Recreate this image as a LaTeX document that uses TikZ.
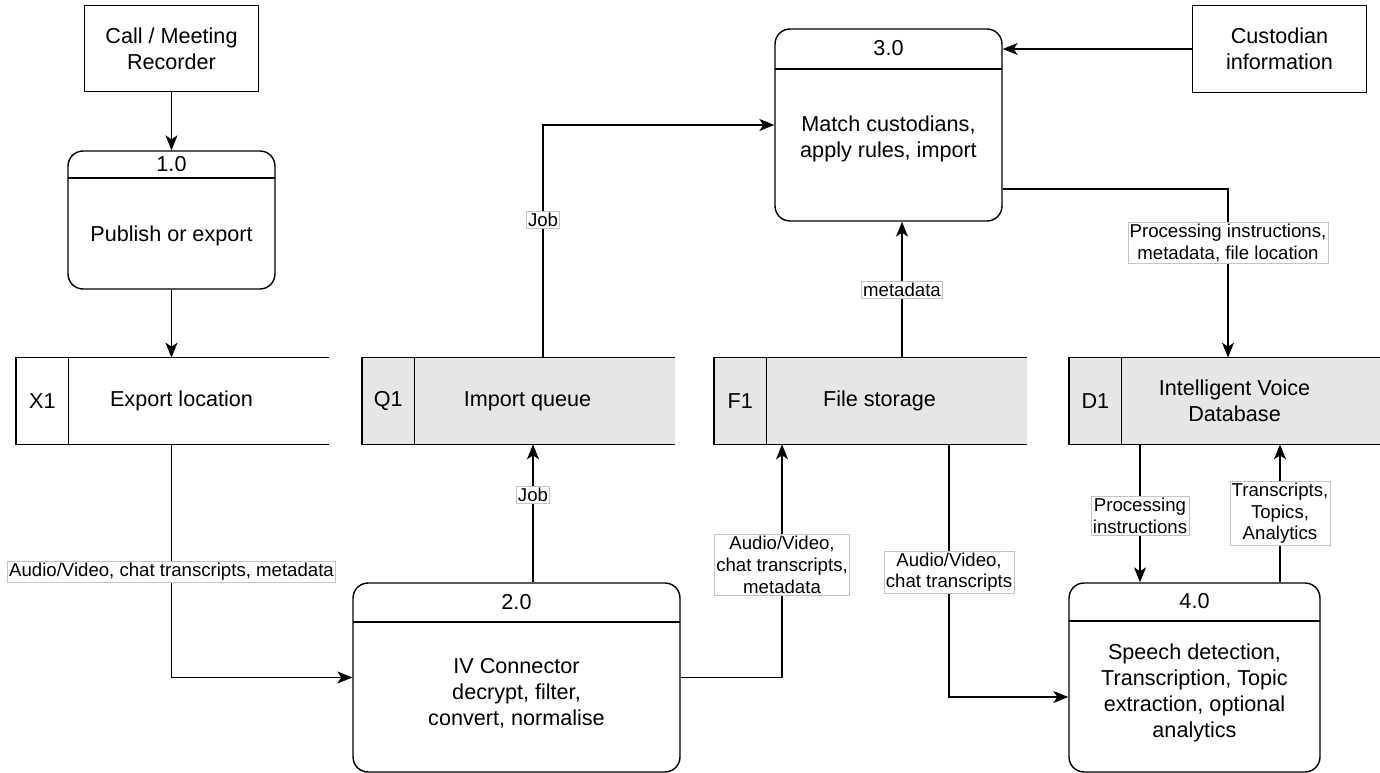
\documentclass[tikz,border=0pt]{standalone}
\usepackage{fontspec}
\setmainfont{Liberation Sans}
\usetikzlibrary{arrows.meta,positioning,backgrounds}
\definecolor{storegray}{HTML}{E6E6E6}
\definecolor{lblgray}{HTML}{C4C4C4}
\newcommand{\mainsize}{\fontsize{12.3}{14.8}\selectfont}
\newcommand{\lblsize}{\fontsize{10.6}{12.4}\selectfont}
\tikzset{
    %Define standard arrow tip
    >={Stealth[length=0.3cm,width=0.24cm,inset=0.08cm]},
    %Define style for external entities
    ext/.style={
           rectangle,
           draw=black, line width=0.8pt,
           minimum width=3.48cm,
           minimum height=1.73cm,
           align=center,
           font=\mainsize},
    %Define style for process boxes
    proc/.style={
           rectangle,
           rounded corners=0.3cm,
           draw=black, line width=0.8pt,
           inner sep=0pt},
    hdr/.style={path picture={
           \draw[line width=0.8pt] ([yshift=-#1]path picture bounding box.north west)
               -- ([yshift=-#1]path picture bounding box.north east);}},
    ptext/.style={align=center, font=\mainsize},
    %Define style for data stores
    storeid/.style={
           rectangle,
           minimum width=1.04cm,
           minimum height=1.72cm,
           inner sep=0pt,
           anchor=west,
           font=\mainsize},
    storename/.style={
           rectangle,
           minimum width=4.5cm,
           minimum height=1.72cm,
           inner sep=0pt,
           align=center,
           font=\mainsize},
    % Define arrow style
    pil/.style={->, line width=0.8pt},
    lbl/.style={
           fill=white,
           draw=lblgray, line width=0.4pt,
           inner sep=1pt,
           align=center,
           font=\lblsize}
}
\begin{document}
\begin{tikzpicture}[x=0.02cm,y=-0.02cm]
\useasboundingbox (0,0) rectangle (1380,773);
% external entities
\node[ext](rec) at (171.5,48.5){Call / Meeting\\Recorder};
\node[ext](cust) at (1279.5,49){Custodian\\information};
% processes
\node[proc, hdr=0.54cm, minimum width=4.14cm, minimum height=2.76cm](p1) at (171.5,220){};
\node[ptext](p1n) at ([yshift=-0.27cm]p1.north){1.0};
\node[ptext](p1t) at ([yshift=-0.32cm]p1.center){Publish or export};
\node[proc, hdr=0.78cm, minimum width=6.54cm, minimum height=3.78cm](p2) at (516.5,677.5){};
\node[ptext](p2n) at ([yshift=-0.39cm]p2.north){2.0};
\node[ptext](p2t) at ([yshift=-0.31cm]p2.center){IV Connector\\decrypt, filter,\\convert, normalise};
\node[proc, hdr=0.8cm, minimum width=4.54cm, minimum height=3.84cm](p3) at (888.5,125){};
\node[ptext](p3n) at ([yshift=-0.4cm]p3.north){3.0};
\node[ptext](p3t) at ([yshift=-0.28cm]p3.center){Match custodians,\\apply rules, import};
\node[proc, hdr=0.76cm, minimum width=5.02cm, minimum height=3.78cm](p4) at (1194.5,677.5){};
\node[ptext](p4n) at ([yshift=-0.38cm]p4.north){4.0};
\node[ptext](p4t) at ([yshift=-0.31cm]p4.center){Speech detection,\\Transcription, Topic\\extraction, optional\\analytics};
% data stores
\node[storeid](x1id) at (16,401){X1};
\node[storename, right=0pt of x1id](x1){Export location};
\node[storeid](q1id) at (362,401){Q1};
\node[storename, right=0pt of q1id](q1){Import queue};
\node[storeid](f1id) at (714,401){F1};
\node[storename, right=0pt of f1id](f1){File storage};
\node[storeid](d1id) at (1069,401){D1};
\node[storename, right=0pt of d1id](d1){Intelligent Voice\\Database};
\begin{scope}[on background layer]
\foreach \s/\c in {x1/white, q1/storegray, f1/storegray, d1/storegray}{
  \draw[line width=0.8pt, fill=\c] ([xshift=0.7cm]\s.north east) -- (\s id.north west)
      -- (\s id.south west) -- ([xshift=0.7cm]\s.south east);
  \draw[line width=0.8pt] (\s.north west) -- (\s.south west);
}
\end{scope}
% data flows
\draw[pil] (rec) -- (p1);
\draw[pil] (p1.south) -- (p1.south |- x1.north);
\draw[pil] (p1.south |- x1.south) |- (p2.west)
    node[lbl, pos=0.273]{Audio/Video, chat transcripts, metadata};
\draw[pil] ([xshift=0.33cm]p2.north) -- ([xshift=0.33cm]p2.north |- q1.south)
    node[lbl, pos=0.633]{Job};
\draw[pil] ([xshift=0.31cm]q1.north) |- (p3.west)
    node[lbl, pos=0.296]{Job};
\draw[pil] (cust.west) -- (cust.west -| p3.east);
\draw[pil] ([xshift=0.27cm]p3.south |- f1.north) -- ([xshift=0.27cm]p3.south)
    node[lbl, pos=0.5]{metadata};
\draw[pil] ([yshift=-1.28cm]p3.east) -| ([xshift=-0.13cm]d1.north)
    node[lbl, pos=0.66]{Processing instructions,\\metadata, file location};
\draw[pil] (p2.east) -| ([xshift=-1.95cm]f1.south)
    node[lbl, pos=0.741]{Audio/Video,\\chat transcripts,\\metadata};
\draw[pil] ([xshift=1.39cm]f1.south) |- ([yshift=-0.39cm]p4.west)
    node[lbl, pos=0.253]{Audio/Video,\\chat transcripts};
\draw[pil] ([xshift=-1.09cm]p4.north |- d1.south) -- ([xshift=-1.09cm]p4.north)
    node[lbl, pos=0.52]{Processing\\instructions};
\draw[pil] ([xshift=1.71cm]p4.north) -- ([xshift=1.71cm]p4.north |- d1.south)
    node[lbl, pos=0.5]{Transcripts,\\Topics,\\Analytics};
\end{tikzpicture}
\end{document}
